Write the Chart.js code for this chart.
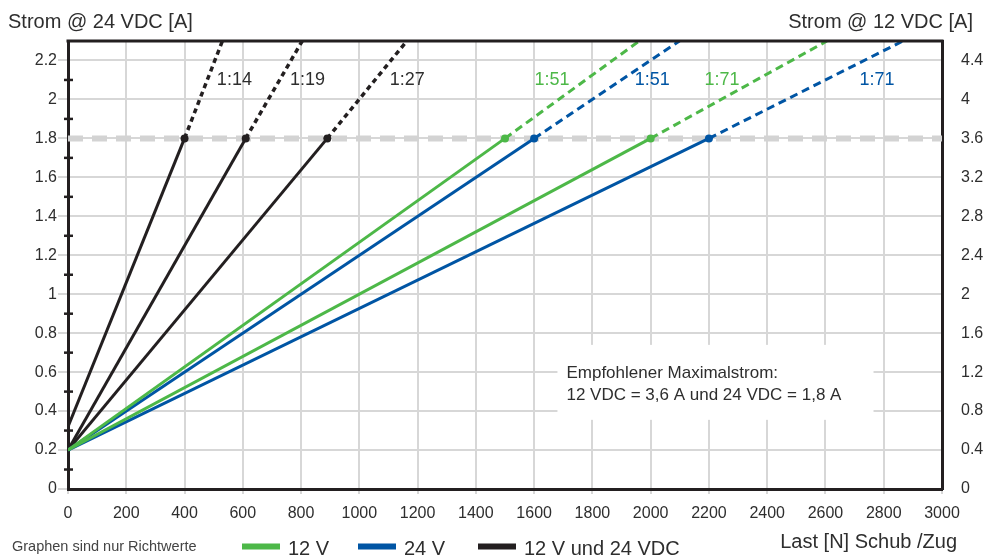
<!DOCTYPE html>
<html><head><meta charset="utf-8">
<script src="https://cdn.jsdelivr.net/npm/chart.js@4/dist/chart.umd.min.js"></script>
<style>html,body{margin:0;padding:0;background:#fff;}#wrap{width:985px;height:558px;}</style>
</head><body><div id="wrap"><canvas id="c" width="985" height="558"></canvas></div>
<script>
// ---- data ----
const xTicks = [0,200,400,600,800,1000,1200,1400,1600,1800,2000,2200,2400,2600,2800,3000];
const leftTicks = [0,0.2,0.4,0.6,0.8,1,1.2,1.4,1.6,1.8,2,2.2];
const rightTicks = [0,0.4,0.8,1.2,1.6,2,2.4,2.8,3.2,3.6,4,4.4];
const minorTicks = [0.1,0.3,0.5,0.7,0.9,1.1,1.3,1.5,1.7,1.9,2.1];
const ratioLabels = ['1:14','1:19','1:27','1:51','1:51','1:71','1:71'];
const voltageGroup = ['both','both','both','12V','24V','12V','24V'];
const startCurrent = [0.32,0.2,0.2,0.2,0.2,0.2,0.2];
const limitLoad = [400,610,890,1500,1600,2000,2200];
const limitCurrent = 1.8;
const topLoad = [530,804,1163,1961,2099,2605,2866];
const topCurrent = 2.3;
const ratioLabelLoad = [511,762,1104,1601,1945,2185,2717];
const ratioLabelCurrent = 2.1;
const legendLabels = ['12 V','24 V','12 V und 24 VDC'];
const legendGroups = ['12V','24V','both'];
const noteLines = ['Empfohlener Maximalstrom:','12 VDC = 3,6 A und 24 VDC = 1,8 A'];

const COLORS = {'12V':'#4db848','24V':'#0055a4','both':'#231f20'};
const FONT = "'Liberation Sans', Arial, sans-serif";
const GRID = '#d7d7d7';
const TEXT = '#2e2e2e';

// draw order: index 0 on top
const order = [3,5,4,6,0,1,2];
const datasets = [];
order.forEach(i => {
  const c = COLORS[voltageGroup[i]];
  datasets.push({
    data:[{x:0,y:startCurrent[i]},{x:limitLoad[i],y:limitCurrent}],
    borderColor:c, backgroundColor:c, borderWidth:3,
    pointRadius:[0,4], pointBackgroundColor:c, pointBorderWidth:0, showLine:true, yAxisID:'y'
  });
  datasets.push({
    data:[{x:limitLoad[i],y:limitCurrent},{x:topLoad[i],y:topCurrent}],
    borderColor:c, borderWidth:voltageGroup[i]==='both'?3.5:3, borderDash: voltageGroup[i]==='both'?[5,4]:[8,5],
    pointRadius:0, showLine:true, yAxisID:'y'
  });
});
datasets.push({
  data:[{x:0,y:limitCurrent},{x:3000,y:limitCurrent}],
  borderColor:'#d3d3d3', borderWidth:6, borderDash:[15,9], pointRadius:0, showLine:true, yAxisID:'y'
});

const fmt = v => String(Math.round(v*10)/10);

const decor = {
  id:'decor',
  beforeDatasetsDraw(chart){
    const ctx = chart.ctx, xs = chart.scales.x, ys = chart.scales.y;
    const x0 = xs.getPixelForValue(1680), x1 = xs.getPixelForValue(2765);
    const y0 = ys.getPixelForValue(0.74), y1 = ys.getPixelForValue(0.355);
    ctx.save();
    ctx.fillStyle = '#fff';
    ctx.fillRect(x0, y0, x1-x0, y1-y0);
    ctx.fillStyle = TEXT;
    ctx.font = '17px ' + FONT;
    ctx.textBaseline = 'alphabetic';
    ctx.textAlign = 'left';
    ctx.fillText(noteLines[0], x0+9, y0+33);
    ctx.fillText(noteLines[1], x0+9, y0+55);
    ctx.restore();
  },
  afterDraw(chart){
    const ctx = chart.ctx, a = chart.chartArea, xs = chart.scales.x, ys = chart.scales.y;
    ctx.save();
    // top border
    ctx.strokeStyle = '#231f20'; ctx.lineWidth = 3;
    ctx.beginPath(); ctx.moveTo(a.left-1.5, a.top); ctx.lineTo(a.right+1.5, a.top); ctx.stroke();
    // minor ticks on left axis
    ctx.lineWidth = 2.5;
    minorTicks.forEach(v => {
      const y = ys.getPixelForValue(v);
      ctx.beginPath(); ctx.moveTo(a.left-4, y); ctx.lineTo(a.left+5, y); ctx.stroke();
    });
    // ratio labels
    ctx.font = '18px ' + FONT;
    ctx.textBaseline = 'middle'; ctx.textAlign = 'left';
    ratioLabels.forEach((t,i) => {
      ctx.fillStyle = voltageGroup[i]==='both' ? TEXT : COLORS[voltageGroup[i]];
      ctx.fillText(t, xs.getPixelForValue(ratioLabelLoad[i]), ys.getPixelForValue(ratioLabelCurrent));
    });
    // axis titles
    ctx.fillStyle = TEXT;
    ctx.font = '20px ' + FONT;
    ctx.textBaseline = 'alphabetic';
    ctx.textAlign = 'left';
    ctx.fillText('Strom @ 24 VDC [A]', 8, 28);
    ctx.textAlign = 'right';
    ctx.fillText('Strom @ 12 VDC [A]', 973, 28);
    ctx.fillText('Last [N] Schub /Zug', 957, 548);
    // note
    ctx.textAlign = 'left';
    ctx.font = '14.5px ' + FONT;
    ctx.fillStyle = '#444';
    ctx.fillText('Graphen sind nur Richtwerte', 12, 551);
    // legend
    const lx = [242, 358, 478];
    ctx.font = '20px ' + FONT;
    legendLabels.forEach((t,i) => {
      const c = COLORS[legendGroups[i]];
      ctx.strokeStyle = c; ctx.lineWidth = 6;
      ctx.beginPath(); ctx.moveTo(lx[i], 546.5); ctx.lineTo(lx[i]+38, 546.5); ctx.stroke();
      ctx.fillStyle = TEXT;
      ctx.fillText(t, lx[i]+46, 555);
    });
    ctx.restore();
  }
};

const tickFont = {family: FONT, size: 16};
new Chart(document.getElementById('c'), {
  type:'scatter',
  data:{datasets},
  plugins:[decor],
  options:{
    responsive:false, animation:false, devicePixelRatio:1,
    layout:{padding:{top:41,left:0,right:0,bottom:0}},
    plugins:{legend:{display:false}, tooltip:{enabled:false}},
    scales:{
      x:{type:'linear', min:0, max:3000,
        afterBuildTicks: s => { s.ticks = xTicks.map(v => ({value:v})); },
        afterFit: s => { s.height = 69; },
        grid:{color:GRID, lineWidth:2, tickLength:5, tickColor:GRID},
        border:{color:'#231f20', width:3},
        ticks:{font:tickFont, color:TEXT, padding:10, maxRotation:0, autoSkip:false, callback: v => String(v)}
      },
      y:{type:'linear', position:'left', min:0, max:2.3,
        afterBuildTicks: s => { s.ticks = leftTicks.map(v => ({value:v})); },
        afterFit: s => { s.width = 68; },
        grid:{color:GRID, lineWidth:2, tickLength:10, tickColor:GRID},
        border:{color:'#231f20', width:3},
        ticks:{font:tickFont, color:TEXT, padding:1, autoSkip:false, callback: v => fmt(v)}
      },
      y2:{type:'linear', position:'right', min:0, max:4.6,
        afterBuildTicks: s => { s.ticks = rightTicks.map(v => ({value:v})); },
        afterFit: s => { s.width = 43; },
        grid:{display:false, drawOnChartArea:false},
        border:{display:true, color:'#231f20', width:3},
        ticks:{font:tickFont, color:TEXT, padding:11, autoSkip:false, callback: v => fmt(v)}
      }
    }
  }
});
</script>
</body></html>
